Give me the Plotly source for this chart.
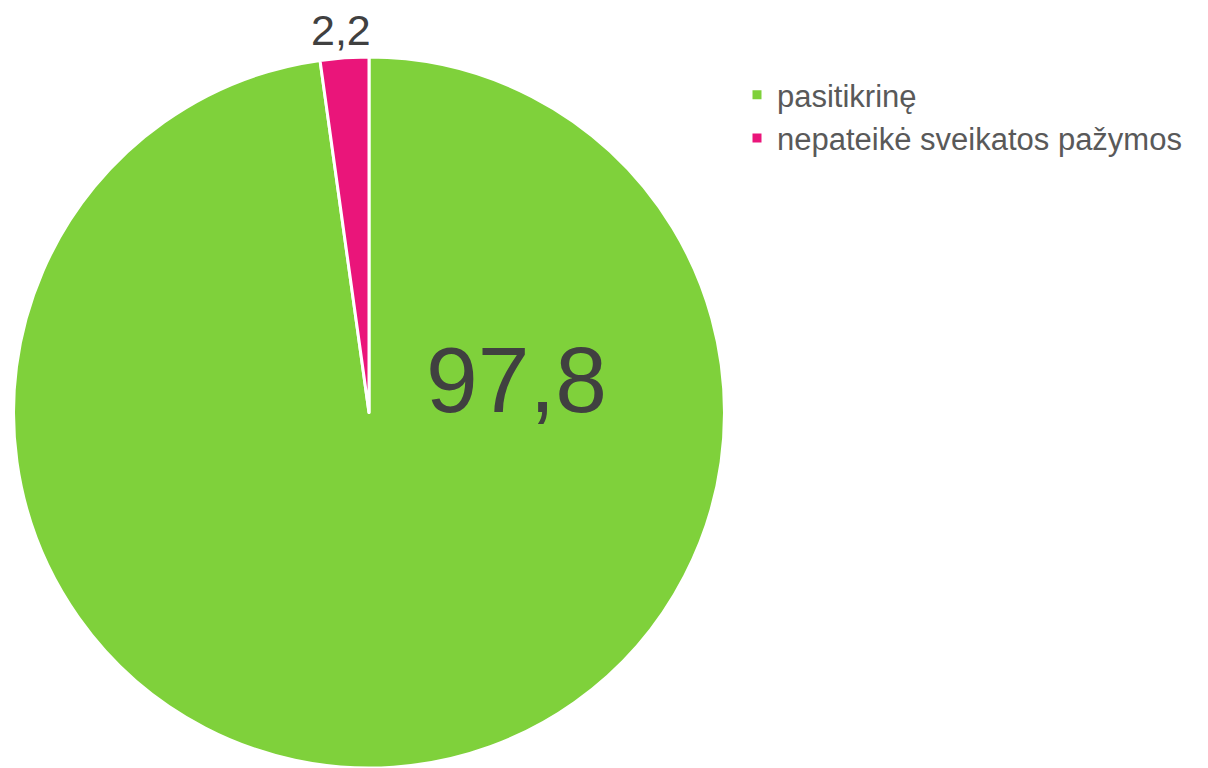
import plotly.graph_objects as go

categories = ["pasitikrinę", "nepateikė sveikatos pažymos"]
values = [97.8, 2.2]
colors = ["#7FD13B", "#EA157A"]
label_text = [f"{v:.1f}".replace(".", ",") for v in values]

W, H = 1208, 768


def px(x):
    return x / W


def py(y):
    return 1 - y / H


FONT = "Liberation Sans, Arial, sans-serif"

fig = go.Figure()
fig.add_trace(go.Pie(
    labels=categories,
    values=values,
    sort=False,
    direction="clockwise",
    rotation=0,
    marker=dict(colors=colors, line=dict(color="white", width=3)),
    textinfo="none",
    hoverinfo="label+value",
    domain=dict(x=[px(12), px(726)], y=[py(768), py(57)]),
))

fig.add_annotation(x=px(516), y=py(380), xref="paper", yref="paper",
                   xanchor="center", yanchor="middle",
                   text=label_text[0], showarrow=False,
                   font=dict(size=93, color="#404040", family=FONT))
fig.add_annotation(x=px(341), y=py(30), xref="paper", yref="paper",
                   xanchor="center", yanchor="middle",
                   text=label_text[1], showarrow=False,
                   font=dict(size=43, color="#404040", family=FONT))

fig.update_layout(
    width=W, height=H,
    margin=dict(l=0, r=0, t=0, b=0),
    paper_bgcolor="white",
    plot_bgcolor="white",
    showlegend=True,
    legend=dict(
        x=px(737), y=py(68), xanchor="left", yanchor="top",
        font=dict(size=31, color="#595959", family=FONT),
        bgcolor="rgba(0,0,0,0)",
        tracegroupgap=0,
        itemwidth=30,
    ),
)

fig.write_html(
    "out.html",
    config={"displayModeBar": False},
    post_script="document.body.style.margin='0';document.body.style.overflow='hidden';",
)
